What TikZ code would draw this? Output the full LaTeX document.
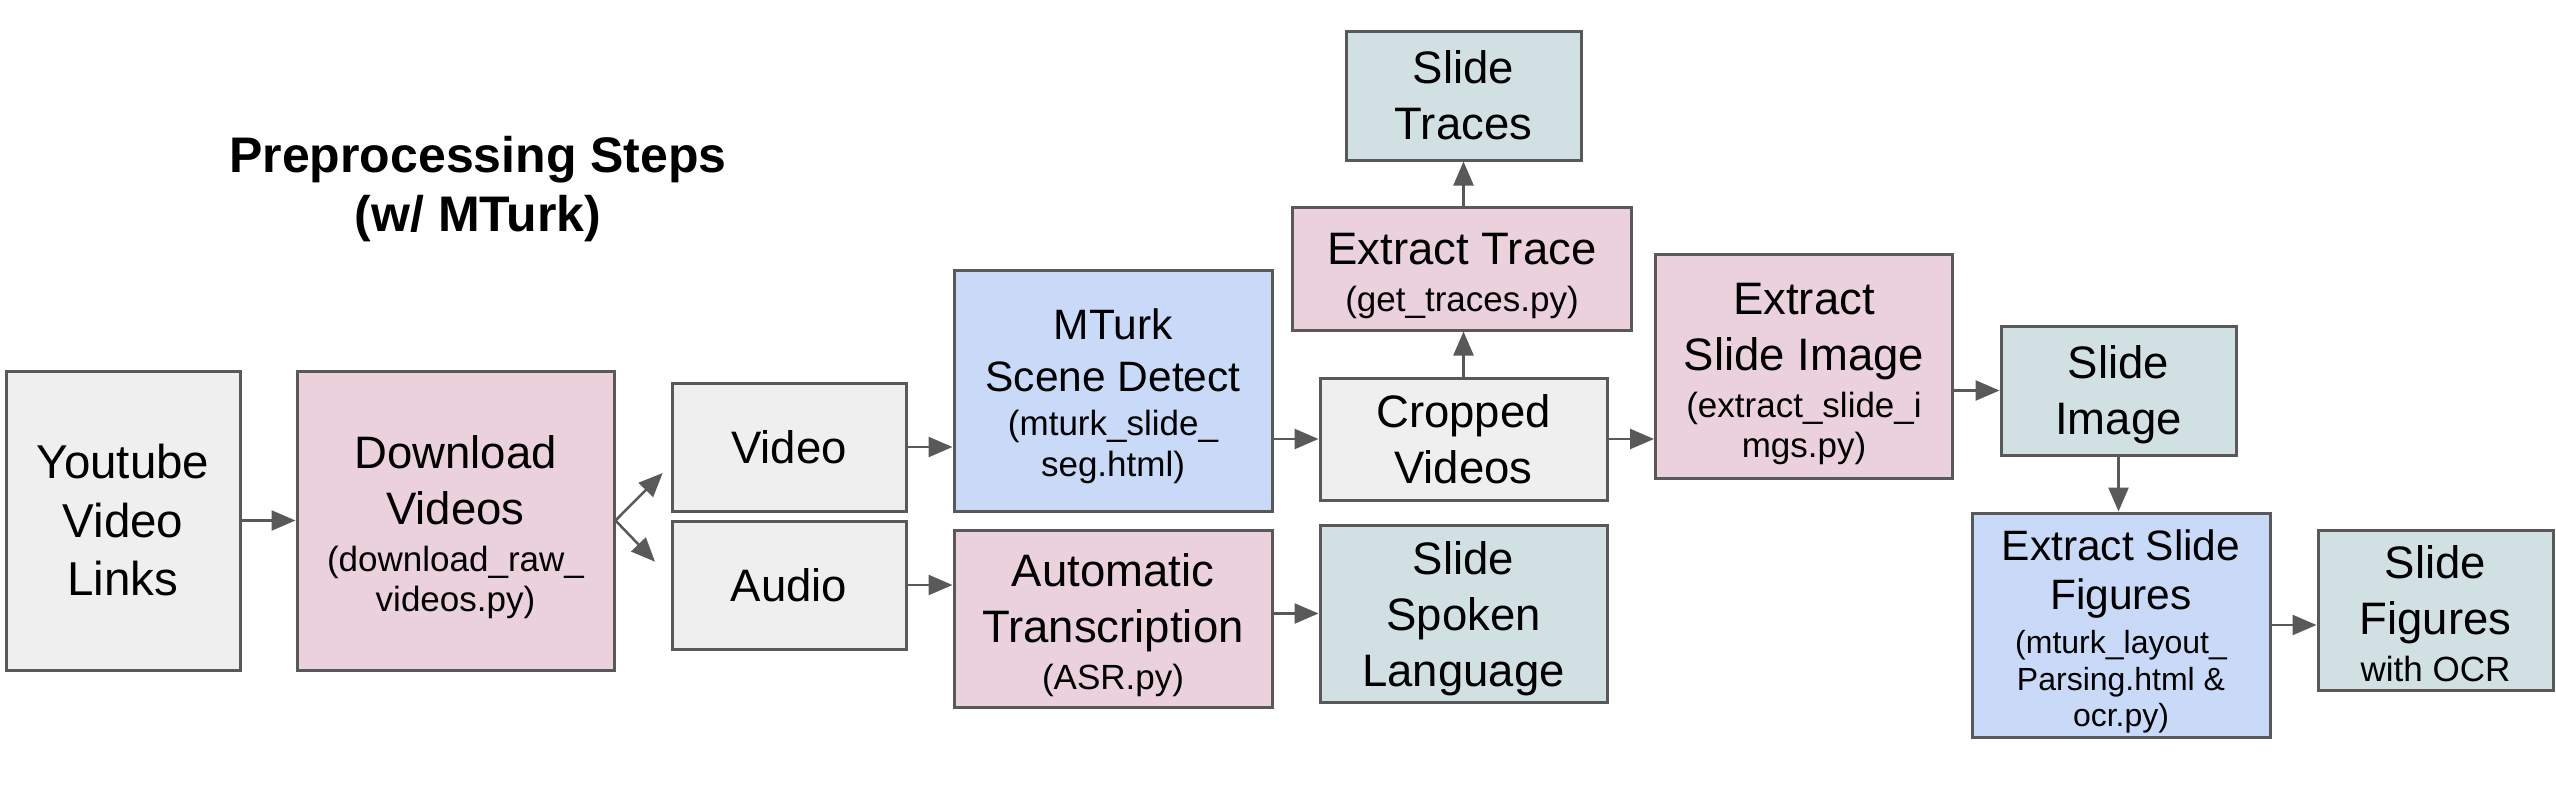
\documentclass[tikz,border=0pt]{standalone}
\usepackage{fontspec}
\setmainfont{Liberation Sans}
\usetikzlibrary{arrows.meta}
\definecolor{bgray}{HTML}{EFEFEF}
\definecolor{bpink}{HTML}{EAD1DC}
\definecolor{bblue}{HTML}{C9DAF8}
\definecolor{bteal}{HTML}{D0E0E3}
\definecolor{edge}{HTML}{595959}
\newcommand{\bigf}{\fontsize{45.5}{56}\selectfont}
\newcommand{\ytf}{\fontsize{47.5}{58.5}\selectfont}
\newcommand{\medf}{\fontsize{42.5}{52}\selectfont}
\newcommand{\smf}{\fontsize{35}{40}\selectfont}
\newcommand{\xsmf}{\fontsize{32}{37}\selectfont}
\newcommand{\brToSmall}{\\[-9pt]}
\newcommand{\brSmall}{\\[-15.5pt]}
\newcommand{\tp}[1]{\rule{0pt}{#1pt}}
\tikzset{
  box/.style={draw=edge, line width=3pt, rectangle, align=center, inner sep=0pt, font=\bigf},
  conn/.style={draw=edge, line width=2.5pt, -{Triangle[length=24pt,width=20pt]}},
}
\begin{document}
\begin{tikzpicture}[x=1pt,y=-1pt]
\useasboundingbox (0,0) rectangle (2556,811);
\node[font=\bfseries\fontsize{50}{59}\selectfont, align=center] (title) at (478,189) {Preprocessing Steps\\(w/ MTurk)};
\node[box, font=\ytf, fill=bgray, minimum width=234pt, minimum height=299pt] (yt) at (123,520.5) {Youtube\\Video\\Links};
\node[box, fill=bpink, minimum width=317pt, minimum height=299pt] (dl) at (455.5,520.5) {\tp{46}Download\\Videos\brToSmall{\smf (download\_raw\_}\brSmall{\smf videos.py)}};
\node[box, fill=bgray, minimum width=234pt, minimum height=128pt] (video) at (789,447) {Video};
\node[box, fill=bgray, minimum width=234pt, minimum height=128pt] (audio) at (789,585) {Audio};
\node[box, font=\medf, fill=bblue, minimum width=318pt, minimum height=241pt] (mturk) at (1113,390.5) {\tp{42.5}MTurk\\Scene Detect\\[-8pt]{\smf (mturk\_slide\_}\\[-11pt]{\smf seg.html)}};
\node[box, fill=bpink, minimum width=318pt, minimum height=177pt] (asr) at (1113,618.5) {\tp{46}Automatic\\Transcription\brToSmall{\smf (ASR.py)}};
\node[box, fill=bteal, minimum width=235pt, minimum height=129pt] (traces) at (1463.5,95.5) {Slide\\Traces};
\node[box, fill=bpink, minimum width=339pt, minimum height=123pt] (etrace) at (1462,268.5) {\tp{46}Extract Trace\brToSmall{\smf (get\_traces.py)}};
\node[box, fill=bgray, minimum width=287pt, minimum height=122pt] (crop) at (1463.5,439) {Cropped\\Videos};
\node[box, fill=bteal, minimum width=287pt, minimum height=177pt] (spoken) at (1463.5,613.5) {\tp{43}Slide\\Spoken\\Language};
\node[box, fill=bpink, minimum width=297pt, minimum height=224pt] (esi) at (1804,366.5) {\tp{46}Extract\\Slide Image\brToSmall{\smf (extract\_slide\_i}\brSmall{\smf mgs.py)}};
\node[box, fill=bteal, minimum width=235pt, minimum height=129pt] (simg) at (2118.5,390.5) {\tp{41}Slide\\Image};
\node[box, font=\medf, fill=bblue, minimum width=298pt, minimum height=224pt] (esf) at (2121,625) {\tp{44}Extract Slide\\[-3pt]Figures\\[-8pt]{\xsmf (mturk\_layout\_}\\[-15.5pt]{\xsmf Parsing.html \&}\\[-15.5pt]{\xsmf ocr.py)}};
\node[box, fill=bteal, minimum width=235pt, minimum height=160pt] (ocr) at (2435.5,610) {\tp{41}Slide\\Figures\brToSmall{\smf with OCR}};
\coordinate (dup) at (662.7,473);
\coordinate (ddown) at (655,561.7);
\draw[conn] (yt.east) -- (dl.west);
\draw[conn] (dl.east) -- (dup);
\draw[conn] (dl.east) -- (ddown);
\draw[conn] (video.east) -- (video.east -| mturk.west);
\draw[conn] (audio.east) -- (audio.east -| asr.west);
\draw[conn] (mturk.east |- crop.west) -- (crop.west);
\draw[conn] (asr.east |- spoken.west) -- (spoken.west);
\draw[conn] (crop.north) -- (crop.north |- etrace.south);
\draw[conn] (traces.south |- etrace.north) -- (traces.south);
\draw[conn] (crop.east) -- (crop.east -| esi.west);
\draw[conn] (esi.east |- simg.west) -- (simg.west);
\draw[conn] (simg.south) -- (simg.south |- esf.north);
\draw[conn] (esf.east) -- (esf.east -| ocr.west);
\end{tikzpicture}
\end{document}
